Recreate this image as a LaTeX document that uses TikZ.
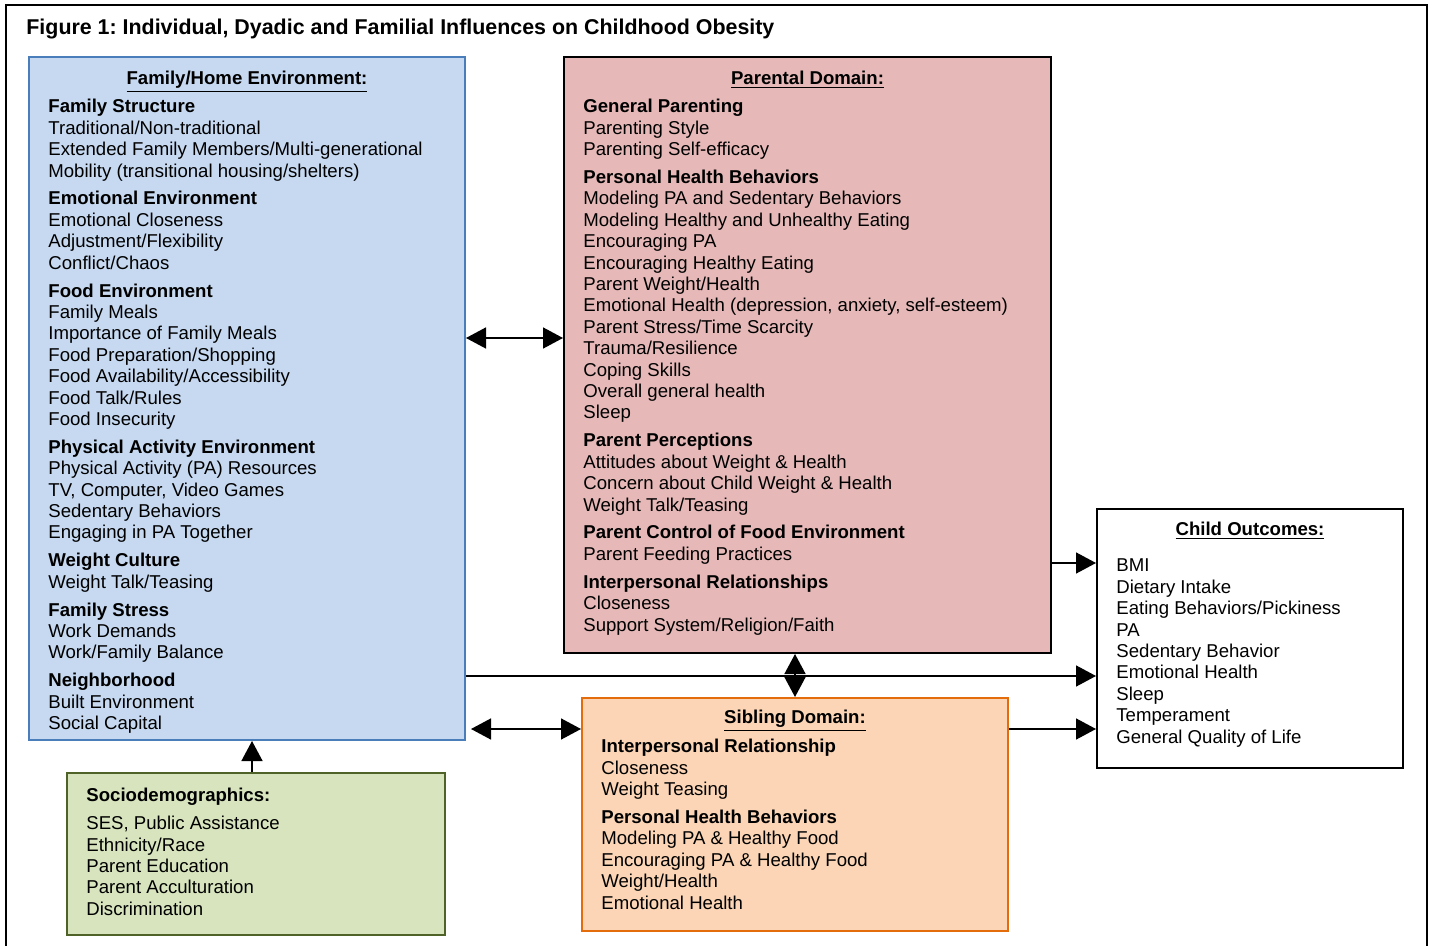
\documentclass[tikz,border=0pt]{standalone}
\usepackage{fontspec}
\setmainfont{Liberation Sans}
\usetikzlibrary{arrows.meta, positioning, fit}

\definecolor{famfill}{HTML}{C6D9F1}
\definecolor{famedge}{HTML}{4A7EBB}
\definecolor{parfill}{HTML}{E6B9B8}
\definecolor{sibfill}{HTML}{FBD5B5}
\definecolor{sibedge}{HTML}{E46C0A}
\definecolor{socfill}{HTML}{D7E4BD}
\definecolor{socedge}{HTML}{4F6228}

\newcommand{\bodyfont}{\fontsize{9.3pt}{10.7pt}\selectfont}
\frenchspacing

\begin{document}
\begin{tikzpicture}[
    x=0.5pt, y=-0.5pt,
    box/.style={rectangle, draw=black, line width=1pt, inner sep=0pt},
    txt/.style={anchor=north west, align=left, inner sep=0pt, font=\bodyfont},
    head/.style={anchor=base, inner sep=0pt, font=\bodyfont\bfseries},
    arrow/.style={-{Triangle[length=10pt, width=10.5pt]}, line width=0.75pt},
    dblarrow/.style={{Triangle[length=10pt, width=10.5pt]}-{Triangle[length=10pt, width=10.5pt]}, line width=0.75pt}
]
\useasboundingbox (0,0) rectangle (1434,946);

% outer frame
\draw[line width=1pt] (6,946) -- (6,5) -- (1427,5) -- (1427,946);

\node[anchor=base west, inner sep=0pt, font=\fontsize{10.7pt}{12pt}\selectfont\bfseries] (title) at (26,35)
    {Figure 1: Individual, Dyadic and Familial Influences on Childhood Obesity};

% boxes
\node[box, draw=famedge, fill=famfill, fit={(29,57) (465,740)}] (family) {};
\node[box, fill=parfill, fit={(564,57) (1051,653)}] (parental) {};
\node[box, fill=white, fit={(1097,509) (1403,768)}] (child) {};
\node[box, draw=sibedge, fill=sibfill, fit={(582,698) (1008,931)}] (sibling) {};
\node[box, draw=socedge, fill=socfill, fit={(67,773) (445,935)}] (socio) {};

% headings
\node[head] (famhead) at ([yshift=-14.25pt]family.north) {\underline{Family/Home Environment:}};
\node[head] (parhead) at ([yshift=-14.25pt]parental.north) {\underline{Parental Domain:}};
\node[head] (chhead) at ([yshift=-13.75pt]child.north) {\underline{Child Outcomes:}};
\node[head] (sibhead) at ([yshift=-13.25pt]sibling.north) {\underline{Sibling Domain:}};

% contents
\node[txt] (famtxt) at ([xshift=10pt, yshift=-20.75pt]family.north west) {%
\strut\textbf{Family Structure}\\
Traditional/Non-traditional\\
Extended Family Members/Multi-generational\\
Mobility (transitional housing/shelters)\\[3.25pt]
\textbf{Emotional Environment}\\
Emotional Closeness\\
Adjustment/Flexibility\\
Conflict/Chaos\\[3.25pt]
\textbf{Food Environment}\\
Family Meals\\
Importance of Family Meals\\
Food Preparation/Shopping\\
Food Availability/Accessibility\\
Food Talk/Rules\\
Food Insecurity\\[3.25pt]
\textbf{Physical Activity Environment}\\
Physical Activity (PA) Resources\\
TV, Computer, Video Games\\
Sedentary Behaviors\\
Engaging in PA Together\\[3.25pt]
\textbf{Weight Culture}\\
Weight Talk/Teasing\\[3.25pt]
\textbf{Family Stress}\\
Work Demands\\
Work/Family Balance\\[3.25pt]
\textbf{Neighborhood}\\
Built Environment\\
Social Capital};

\node[txt] (partxt) at ([xshift=10pt, yshift=-20.75pt]parental.north west) {%
\strut\textbf{General Parenting}\\
Parenting Style\\
Parenting Self-efficacy\\[3.25pt]
\textbf{Personal Health Behaviors}\\
Modeling PA and Sedentary Behaviors\\
Modeling Healthy and Unhealthy Eating\\
Encouraging PA\\
Encouraging Healthy Eating\\
Parent Weight/Health\\
Emotional Health (depression, anxiety, self-esteem)\\
Parent Stress/Time Scarcity\\
Trauma/Resilience\\
Coping Skills\\
Overall general health\\
Sleep\\[3.25pt]
\textbf{Parent Perceptions}\\
Attitudes about Weight \& Health\\
Concern about Child Weight \& Health\\
Weight Talk/Teasing\\[3.25pt]
\textbf{Parent Control of Food Environment}\\
Parent Feeding Practices\\[3.25pt]
\textbf{Interpersonal Relationships}\\
Closeness\\
Support System/Religion/Faith};

\node[txt] (chtxt) at ([xshift=10pt, yshift=-24.25pt]child.north west) {%
\strut BMI\\
Dietary Intake\\
Eating Behaviors/Pickiness\\
PA\\
Sedentary Behavior\\
Emotional Health\\
Sleep\\
Temperament\\
General Quality of Life};

\node[txt] (sibtxt) at ([xshift=10pt, yshift=-20.25pt]sibling.north west) {%
\strut\textbf{Interpersonal Relationship}\\
Closeness\\
Weight Teasing\\[3.25pt]
\textbf{Personal Health Behaviors}\\
Modeling PA \& Healthy Food\\
Encouraging PA \& Healthy Food\\
Weight/Health\\
Emotional Health};

\node[txt] (soctxt) at ([xshift=10pt, yshift=-7.25pt]socio.north west) {%
\strut\textbf{Sociodemographics:}\\[3.25pt]
SES, Public Assistance\\
Ethnicity/Race\\
Parent Education\\
Parent Acculturation\\
Discrimination};

% connectors
\coordinate (yfp) at (0,338);
\coordinate (ypc) at (0,563);
\coordinate (yfc) at (0,676);
\coordinate (ysib) at (0,729);
\coordinate (xsoc) at (252,0);

\draw[dblarrow] (family.east |- yfp) -- (parental.west |- yfp);
\draw[arrow] (parental.east |- ypc) -- (child.west |- ypc);
\draw[arrow] (family.east |- yfc) -- (child.west |- yfc);
\draw[dblarrow] (parental.south -| sibling.north) -- (sibling.north);
\draw[dblarrow, shorten <=2.5pt] (family.east |- ysib) -- (sibling.west |- ysib);
\draw[arrow] (sibling.east |- ysib) -- (child.west |- ysib);
\draw[arrow] (socio.north -| xsoc) -- (family.south -| xsoc);

\end{tikzpicture}
\end{document}
